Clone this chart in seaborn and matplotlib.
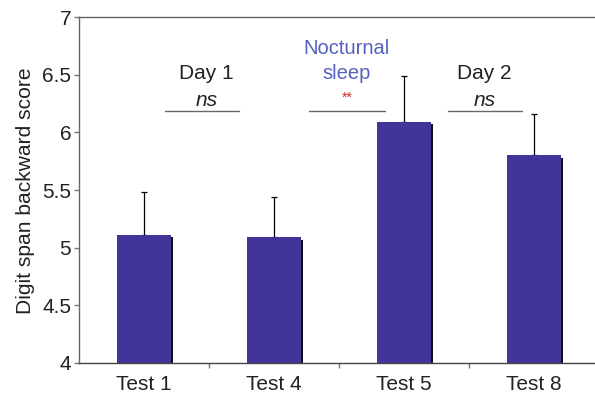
import matplotlib
matplotlib.use("Agg")
import matplotlib.pyplot as plt
import matplotlib.patheffects as pe
from matplotlib.ticker import FixedLocator
import seaborn as sns

# data
tests = ["Test 1", "Test 4", "Test 5", "Test 8"]
scores = [5.11, 5.09, 6.09, 5.80]
sem = [0.37, 0.35, 0.40, 0.36]

sns.set_style("white")
plt.rcParams["font.family"] = ["Liberation Sans", "DejaVu Sans"]

fig = plt.figure(figsize=(5.95, 3.98), dpi=100)
ax = fig.add_axes([79 / 595, 1 - 363 / 398, 520 / 595, 346 / 398])

bar_color = "#42359a"
sns.barplot(x=tests, y=scores, color=bar_color, width=0.41, saturation=1,
            edgecolor=bar_color, linewidth=0, ax=ax)
for p in ax.patches:
    p.set_zorder(2)
    p.set_path_effects([pe.SimplePatchShadow(offset=(1.6, -1.8), shadow_rgbFace="#111111", alpha=1),
                        pe.Normal()])

# upper error bars only (lower cap hidden behind the bar)
ax.errorbar(range(len(tests)), scores, yerr=[[0] * len(sem), sem], fmt="none",
            ecolor="black", elinewidth=0.9, capsize=2.2, capthick=0.9, zorder=1)

ax.set_ylim(4, 7)
ax.set_xlim(-0.5, 3.5)
ax.set_yticks([4, 4.5, 5, 5.5, 6, 6.5, 7])
ax.set_yticklabels(["4", "4.5", "5", "5.5", "6", "6.5", "7"])
ax.xaxis.set_minor_locator(FixedLocator([0.5, 1.5, 2.5]))
ax.tick_params(axis="x", which="major", length=0, pad=9, labelsize=15, labelcolor="#222222")
ax.tick_params(axis="x", which="minor", length=3.6, width=1, color="#777777", direction="out", bottom=True)
ax.tick_params(axis="y", length=3.6, width=1, color="#777777", direction="out", left=True,
               pad=2, labelsize=15, labelcolor="#222222")

ax.set_xlabel("")
ax.set_ylabel("Digit span backward score", fontsize=15.1, color="#222222")
ax.yaxis.set_label_coords(-0.084, 0.497)

for side in ["left", "bottom", "top"]:
    ax.spines[side].set_visible(True)
    ax.spines[side].set_color("#666666")
    ax.spines[side].set_linewidth(1)
    ax.spines[side].set_zorder(3)
ax.spines["bottom"].set_color("#444444")
ax.spines["right"].set_visible(False)

# comparison brackets and labels
line_kw = dict(color="#666666", lw=1)
ax.plot([0.16, 0.73], [6.185, 6.185], **line_kw)
ax.plot([1.27, 1.85], [6.185, 6.185], **line_kw)
ax.plot([2.34, 2.91], [6.185, 6.185], **line_kw)

ax.text(0.48, 6.51, "Day 1", ha="center", va="center", fontsize=15, color="#222222")
ax.text(0.48, 6.28, "ns", ha="center", va="center", fontsize=15, style="italic", color="#222222")
ax.text(1.56, 6.73, "Nocturnal", ha="center", va="center", fontsize=14.5, color="#5560bf")
ax.text(1.56, 6.51, "sleep", ha="center", va="center", fontsize=14.5, color="#5560bf")
ax.text(1.56, 6.30, "**", ha="center", va="center", fontsize=10, color="#d03020")
ax.text(2.62, 6.51, "Day 2", ha="center", va="center", fontsize=15, color="#222222")
ax.text(2.62, 6.28, "ns", ha="center", va="center", fontsize=15, style="italic", color="#222222")

fig.savefig("out.png", dpi=100)
